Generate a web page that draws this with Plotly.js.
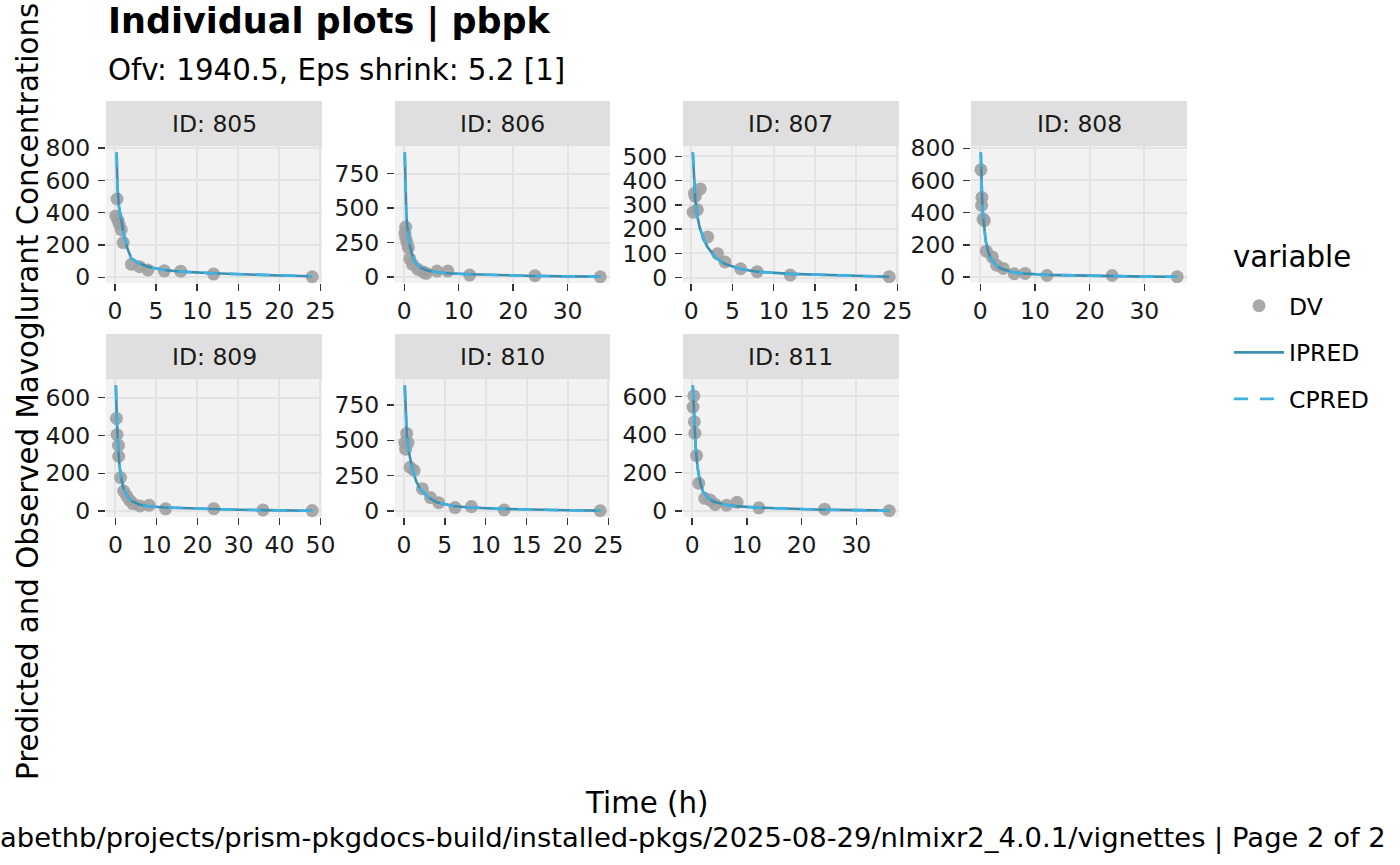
<!DOCTYPE html>
<html>
<head>
<meta charset="utf-8">
<script src="https://cdn.plot.ly/plotly-3.0.1.min.js"></script>
<style>
html,body{margin:0;padding:0;background:#ffffff;}
#plot{width:1400px;height:865px;}
</style>
</head>
<body>
<div id="plot"></div>
<script>
// ---------------- DATA ----------------
const panelIds = ['805', '806', '807', '808', '809', '810', '811'];

// observed DV
const time805 = [0.25, 0.1, 0.35, 0.5, 0.75, 1, 2, 3, 4, 6, 8, 12, 24];
const dv805   = [485, 380, 355, 330, 295, 215, 80, 65, 45, 40, 38, 20, 3];
const time806 = [0.25, 0.1, 0.25, 0.5, 0.75, 1, 1.5, 2.5, 3.5, 4, 6, 8, 12, 24, 36];
const dv806   = [362, 320, 285, 250, 213, 133, 92, 56, 36, 27, 43, 43, 14, 10, 2];
const time807 = [0.25, 0.4, 0.5, 0.75, 1.1, 2, 3.2, 4.1, 6, 8, 12, 24];
const dv807   = [270, 348, 335, 280, 366, 168, 99, 65, 37, 25, 11, 4];
const time808 = [0.12, 0.3, 0.25, 0.5, 0.75, 1.1, 2.2, 3, 4.2, 6.2, 8.2, 12.2, 24.1, 36];
const dv808   = [666, 494, 445, 361, 350, 161, 124, 74, 54, 21, 23, 10, 10, 2];
const time809 = [0.25, 0.4, 0.75, 0.8, 1.25, 2, 2.75, 3.5, 4.25, 6, 8.25, 12.25, 24, 36, 48];
const dv809   = [490, 404, 347, 290, 177, 106, 80, 57, 40, 27, 31, 12, 13, 6, 3];
const time810 = [0.33, 0.1, 0.5, 0.2, 0.75, 1.25, 2.25, 3.25, 4.25, 6.25, 8.25, 12.25, 24];
const dv810   = [548, 483, 483, 436, 309, 286, 157, 95, 59, 24, 31, 7, 2];
const time811 = [0.3, 0.15, 0.4, 0.5, 0.8, 1.2, 2.3, 3.3, 4.2, 6.3, 8.2, 12.2, 24.2, 36];
const dv811   = [602, 544, 467, 407, 290, 145, 66, 57, 34, 30, 45, 16, 9, 1];

// predictions (IPRED solid, CPRED dashed)
const predTime805 = [0.2, 0.3, 0.5, 0.75, 1, 1.5, 2, 3, 4, 6, 8, 12, 16, 20, 24];
const ipred805    = [775, 560, 430, 350, 285, 180, 115, 85, 65, 45, 35, 25, 17, 11, 6];
const cpred805    = [770, 555, 428, 348, 283, 179, 115, 84, 64, 45, 35, 24, 17, 11, 6];
const predTime806 = [0.08, 0.2, 0.35, 0.5, 0.75, 1, 1.5, 2, 3, 4, 6, 8, 12, 18, 24, 30, 36];
const ipred806    = [905, 650, 480, 380, 290, 230, 150, 105, 68, 50, 35, 28, 20, 13, 8, 5, 3];
const cpred806    = [900, 645, 478, 378, 289, 229, 150, 104, 68, 50, 35, 27, 19, 13, 8, 5, 3];
const predTime807 = [0.2, 0.32, 0.5, 0.75, 1, 1.5, 2, 3, 4, 6, 8, 12, 16, 20, 24];
const ipred807    = [517, 420, 320, 255, 210, 160, 125, 82, 58, 36, 25, 16, 11, 7, 4];
const cpred807    = [514, 418, 319, 254, 209, 159, 124, 81, 58, 36, 25, 16, 11, 7, 4];
const predTime808 = [0.1, 0.2, 0.35, 0.5, 0.75, 1, 1.5, 2, 3, 4, 6, 8, 12, 18, 24, 30, 36];
const ipred808    = [775, 620, 470, 380, 290, 225, 150, 110, 70, 50, 30, 22, 14, 9, 5, 3, 2];
const cpred808    = [770, 616, 468, 378, 289, 224, 149, 109, 70, 50, 30, 22, 14, 9, 5, 3, 2];
const predTime809 = [0.1, 0.25, 0.5, 0.75, 1, 1.5, 2, 3, 4, 6, 8, 12, 18, 24, 30, 36, 42, 48];
const ipred809    = [665, 520, 400, 310, 240, 165, 118, 75, 52, 33, 26, 19, 14, 10, 7, 5, 3, 2];
const cpred809    = [660, 517, 398, 309, 239, 164, 117, 75, 52, 33, 26, 19, 14, 10, 7, 5, 3, 2];
const predTime810 = [0.1, 0.2, 0.35, 0.5, 0.75, 1, 1.5, 2, 3, 4, 6, 8, 12, 16, 20, 24];
const ipred810    = [888, 700, 540, 450, 360, 300, 210, 155, 95, 62, 35, 25, 15, 9, 5, 3];
const cpred810    = [882, 696, 538, 448, 359, 299, 209, 154, 95, 62, 35, 25, 15, 9, 5, 3];
const predTime811 = [0.12, 0.25, 0.4, 0.6, 0.8, 1, 1.5, 2, 3, 4, 6, 8, 12, 18, 24, 30, 36];
const ipred811    = [658, 560, 450, 350, 280, 225, 145, 100, 65, 48, 32, 25, 17, 10, 6, 4, 2];
const cpred811    = [654, 557, 448, 349, 279, 224, 145, 100, 65, 48, 32, 25, 17, 10, 6, 4, 2];

// tick labels per panel
const xTicks805 = [0, 5, 10, 15, 20, 25];
const xTicks806 = [0, 10, 20, 30];
const xTicks807 = [0, 5, 10, 15, 20, 25];
const xTicks808 = [0, 10, 20, 30];
const xTicks809 = [0, 10, 20, 30, 40, 50];
const xTicks810 = [0, 5, 10, 15, 20, 25];
const xTicks811 = [0, 10, 20, 30];
const yTicks805 = [0, 200, 400, 600, 800];
const yTicks806 = [0, 250, 500, 750];
const yTicks807 = [0, 100, 200, 300, 400, 500];
const yTicks808 = [0, 200, 400, 600, 800];
const yTicks809 = [0, 200, 400, 600];
const yTicks810 = [0, 250, 500, 750];
const yTicks811 = [0, 200, 400, 600];

const seriesNames = ['DV', 'IPRED', 'CPRED'];
const legendTitleText = 'variable';
const titleText = 'Individual plots | pbpk';
const subtitleText = 'Ofv: 1940.5, Eps shrink: 5.2 [1]';
const xTitleText = 'Time (h)';
const yTitleText = 'Predicted and Observed Mavoglurant Concentrations';
const captionText = 'abethb/projects/prism-pkgdocs-build/installed-pkgs/2025-08-29/nlmixr2_4.0.1/vignettes | Page 2 of 2';

// ---------------- BUILD ----------------
const panels = [
  {id: '805', t: time805, dv: dv805, pt: predTime805, ip: ipred805, cp: cpred805, xt: xTicks805, yt: yTicks805},
  {id: '806', t: time806, dv: dv806, pt: predTime806, ip: ipred806, cp: cpred806, xt: xTicks806, yt: yTicks806},
  {id: '807', t: time807, dv: dv807, pt: predTime807, ip: ipred807, cp: cpred807, xt: xTicks807, yt: yTicks807},
  {id: '808', t: time808, dv: dv808, pt: predTime808, ip: ipred808, cp: cpred808, xt: xTicks808, yt: yTicks808},
  {id: '809', t: time809, dv: dv809, pt: predTime809, ip: ipred809, cp: cpred809, xt: xTicks809, yt: yTicks809},
  {id: '810', t: time810, dv: dv810, pt: predTime810, ip: ipred810, cp: cpred810, xt: xTicks810, yt: yTicks810},
  {id: '811', t: time811, dv: dv811, pt: predTime811, ip: ipred811, cp: cpred811, xt: xTicks811, yt: yTicks811}
];

const W = 1400, H = 865;
const colPx = [[106, 322], [395, 610], [683, 899], [971, 1187]];
const rowPx = [[146, 283], [379, 517]];
const stripPx = [[101, 146], [334, 379]];
const FONT = 'DejaVu Sans, Verdana, sans-serif';
const tickFont = {family: FONT, size: 23.5, color: '#1a1a1a'};

function expand(arr) {
  const mn = Math.min(...arr), mx = Math.max(...arr);
  const d = (mx - mn) * 0.05;
  return [mn - d, mx + d];
}

const traces = [];
const layout = {
  width: W, height: H,
  margin: {l: 0, r: 0, t: 0, b: 0, pad: 0},
  paper_bgcolor: '#ffffff',
  plot_bgcolor: '#F2F2F2',
  font: {family: FONT, color: '#000000'},
  showlegend: true,
  hovermode: false,
  shapes: [],
  annotations: [],
  legend: {
    x: 1229 / W, xanchor: 'left',
    y: 1 - 284 / H, yanchor: 'top',
    bgcolor: 'rgba(0,0,0,0)',
    font: {family: FONT, size: 23.5, color: '#000000'},
    tracegroupgap: 13,
    itemwidth: 50,
    traceorder: 'grouped'
  }
};

panels.forEach((p, i) => {
  const col = i % 4, row = Math.floor(i / 4);
  const n = i + 1;
  const xa = 'xaxis' + (n === 1 ? '' : n);
  const ya = 'yaxis' + (n === 1 ? '' : n);
  const xr = 'x' + (n === 1 ? '' : n);
  const yr = 'y' + (n === 1 ? '' : n);
  const xrange = expand(p.t.concat(p.pt));
  const yrange = expand(p.dv.concat(p.ip, p.cp));
  const common = {
    showline: false, zeroline: false,
    showgrid: true, gridcolor: '#E3E3E3', gridwidth: 2,
    ticks: 'outside', ticklen: 7, tickwidth: 1.4, tickcolor: '#333333',
    tickfont: tickFont, tickmode: 'array', fixedrange: true
  };
  layout[xa] = Object.assign({}, common, {
    domain: [colPx[col][0] / W, colPx[col][1] / W],
    anchor: yr, range: xrange,
    tickvals: p.xt, ticktext: p.xt.map(String)
  });
  layout[ya] = Object.assign({}, common, {
    domain: [1 - rowPx[row][1] / H, 1 - rowPx[row][0] / H],
    anchor: xr, range: yrange,
    tickvals: p.yt, ticktext: p.yt.map(String),
    ticklabelstandoff: 3
  });

  traces.push({
    type: 'scatter', mode: 'markers', x: p.t, y: p.dv, xaxis: xr, yaxis: yr,
    name: seriesNames[0], legendgroup: 'DV', showlegend: i === 0,
    marker: {color: 'rgba(160,160,160,0.9)', size: 13}
  });
  traces.push({
    type: 'scatter', mode: 'lines', x: p.pt, y: p.ip, xaxis: xr, yaxis: yr,
    name: seriesNames[1], legendgroup: 'IPRED', showlegend: i === 0,
    line: {color: '#3C8FB0', width: 2.6}
  });
  traces.push({
    type: 'scatter', mode: 'lines', x: p.pt, y: p.cp, xaxis: xr, yaxis: yr,
    name: seriesNames[2], legendgroup: 'CPRED', showlegend: i === 0,
    line: {color: '#3FB2E2', width: 2.6, dash: '14px,12px'}
  });

  // strip
  layout.shapes.push({
    type: 'rect', xref: 'paper', yref: 'paper', layer: 'below',
    x0: colPx[col][0] / W, x1: colPx[col][1] / W,
    y0: 1 - stripPx[row][1] / H, y1: 1 - stripPx[row][0] / H,
    fillcolor: '#DFDFDF', line: {width: 0}
  });
  layout.annotations.push({
    xref: 'paper', yref: 'paper', showarrow: false,
    x: (colPx[col][0] + colPx[col][1]) / 2 / W,
    y: 1 - (stripPx[row][0] + stripPx[row][1]) / 2 / H,
    xanchor: 'center', yanchor: 'middle',
    text: 'ID: ' + p.id,
    font: {family: FONT, size: 23.5, color: '#1A1A1A'}
  });
});

// titles
layout.annotations.push({
  xref: 'paper', yref: 'paper', showarrow: false,
  x: 106 / W, y: 1 - 22 / H, xanchor: 'left', yanchor: 'middle',
  text: '<b>' + titleText + '</b>',
  font: {family: FONT, size: 35, color: '#000000'}
});
layout.annotations.push({
  xref: 'paper', yref: 'paper', showarrow: false,
  x: 106 / W, y: 1 - 70 / H, xanchor: 'left', yanchor: 'middle',
  text: subtitleText,
  font: {family: FONT, size: 29.3, color: '#000000'}
});
layout.annotations.push({
  xref: 'paper', yref: 'paper', showarrow: false,
  x: 646 / W, y: 1 - 803 / H, xanchor: 'center', yanchor: 'middle',
  text: xTitleText,
  font: {family: FONT, size: 29.3, color: '#000000'}
});
layout.annotations.push({
  xref: 'paper', yref: 'paper', showarrow: false,
  x: 28 / W, y: 1 - 392 / H, xanchor: 'center', yanchor: 'middle',
  textangle: -90,
  text: yTitleText,
  font: {family: FONT, size: 29.3, color: '#000000'}
});
layout.annotations.push({
  xref: 'paper', yref: 'paper', showarrow: false,
  x: 1388 / W, y: 1 - 838 / H, xanchor: 'right', yanchor: 'middle',
  text: captionText,
  font: {family: FONT, size: 27.4, color: '#000000'}
});
layout.annotations.push({
  xref: 'paper', yref: 'paper', showarrow: false,
  x: 1231 / W, y: 1 - 257 / H, xanchor: 'left', yanchor: 'middle',
  text: legendTitleText,
  font: {family: FONT, size: 29.3, color: '#000000'}
});

Plotly.newPlot('plot', traces, layout, {staticPlot: true, displayModeBar: false});
</script>
</body>
</html>
